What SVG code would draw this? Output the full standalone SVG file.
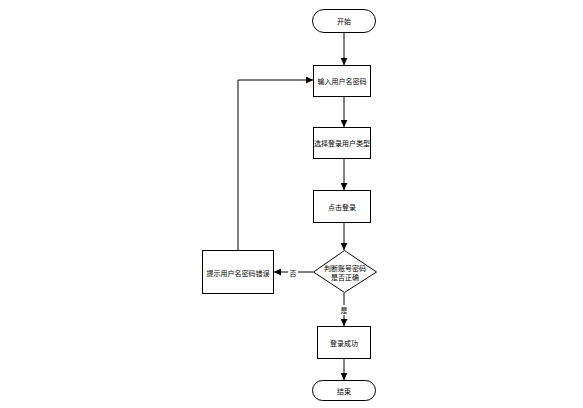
<svg xmlns="http://www.w3.org/2000/svg" width="583" height="408" viewBox="0 0 583 408">
<defs>
<marker id="arr" viewBox="0 0 10 10" refX="10" refY="5" markerWidth="7" markerHeight="7" markerUnits="userSpaceOnUse" orient="auto">
<path d="M0,0 L10,5 L0,10 z" fill="#000"/>
</marker>
<style>
.n{fill:#fff;stroke:#000;stroke-width:1}
.t{font-family:"Noto Sans CJK SC","Liberation Sans",sans-serif;font-size:7px;fill:#000;text-anchor:middle;dominant-baseline:central}
.c{fill:none;stroke:#000;stroke-width:1;marker-end:url(#arr)}
</style>
</defs>
<rect width="583" height="408" fill="#fff"/>
<g id="connectors">
<path class="c" d="M344,33 V65"/>
<path class="c" d="M344,97 V127"/>
<path class="c" d="M344,159 V190"/>
<path class="c" d="M344,223 V250"/>
<path class="c" d="M313,272 H274"/>
<path class="c" d="M344,293 V326"/>
<path class="c" d="M344,359 V380"/>
<path class="c" d="M238,250 V80 H313"/>
<rect x="288" y="268" width="10" height="9" fill="#fff"/>
<text class="t" x="293" y="272.5">否</text>
<rect x="339" y="305" width="10" height="10" fill="#fff"/>
<text class="t" x="344" y="310">是</text>
</g>
<g id="start">
<rect class="n" x="312.5" y="9.5" width="63" height="23" rx="11.5"/>
<text class="t" x="344" y="21">开始</text>
</g>
<g id="input">
<rect class="n" x="313.5" y="65.5" width="57" height="31"/>
<text class="t" x="342" y="81">输入用户名密码</text>
</g>
<g id="select">
<rect class="n" x="313.5" y="127.5" width="57" height="31"/>
<text class="t" x="342" y="143">选择登录用户类型</text>
</g>
<g id="click">
<rect class="n" x="313.5" y="190.5" width="57" height="32"/>
<text class="t" x="342" y="207">点击登录</text>
</g>
<g id="check">
<path class="n" d="M344.5,250.5 L376.5,272 L344.5,292.5 L313.5,272 Z"/>
<text class="t" x="345" y="267.5">判断账号密码</text>
<text class="t" x="345" y="277">是否正确</text>
</g>
<g id="error">
<rect class="n" x="202.5" y="250.5" width="71" height="43"/>
<text class="t" x="238" y="272.5">提示用户名密码错误</text>
</g>
<g id="success">
<rect class="n" x="317.5" y="326.5" width="53" height="32"/>
<text class="t" x="344" y="343">登录成功</text>
</g>
<g id="end">
<rect class="n" x="312.5" y="380.5" width="63" height="20" rx="10"/>
<text class="t" x="344" y="390.5">结束</text>
</g>
</svg>
